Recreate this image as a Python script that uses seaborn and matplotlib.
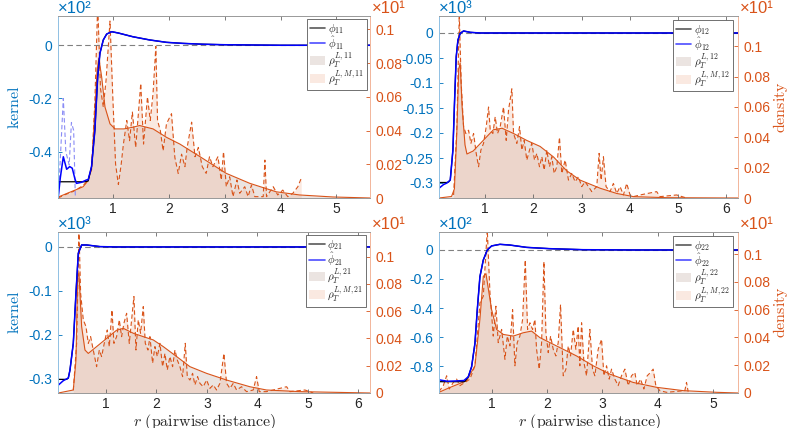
import matplotlib
matplotlib.use("Agg")
import matplotlib.pyplot as plt
import seaborn as sns
from matplotlib.ticker import FuncFormatter, FixedLocator
from matplotlib.lines import Line2D
from matplotlib.patches import Patch

# ---------------- panel 11 ----------------
r_phi11 = [0.02, 0.50, 0.56, 0.62, 0.68, 0.73, 0.77, 0.83, 0.89, 0.98, 1.1, 1.36, 1.66,
           1.96, 2.26, 2.6, 3.0, 3.5, 4.0, 5.6]
phi11 = [-0.513, -0.513, -0.51, -0.456, -0.318, -0.118, -0.03, 0.02, 0.042, 0.051, 0.046,
         0.032, 0.020, 0.011, 0.007, 0.004, 0.002, 0.001, 0.0, 0.0]
r_phihat11 = [0.025, 0.06, 0.115, 0.175, 0.23, 0.275, 0.32, 0.35, 0.44, 0.53, 0.56, 0.62,
              0.68, 0.73, 0.77, 0.83, 0.89, 0.98, 1.1, 1.36, 1.66, 1.96, 2.26, 2.6, 3.0,
              3.5, 4.0, 5.6]
phihat11 = [-0.57, -0.50, -0.419, -0.466, -0.456, -0.462, -0.50, -0.519, -0.515, -0.506,
            -0.505, -0.456, -0.318, -0.118, -0.03, 0.02, 0.042, 0.051, 0.046, 0.032, 0.020,
            0.011, 0.007, 0.004, 0.002, 0.001, 0.0, 0.0]
r_aux11 = [0.03, 0.115, 0.16, 0.22, 0.26, 0.30, 0.33]
aux11 = [-0.56, -0.20, -0.40, -0.45, -0.29, -0.32, -0.57]
r_rhoL11 = [0.02, 0.2, 0.35, 0.47, 0.55, 0.62, 0.68, 0.72, 0.75, 0.80, 0.86, 0.95, 1.04,
            1.2, 1.36, 1.48, 1.6, 1.72, 1.96, 2.2, 2.56, 3.03, 3.45, 3.92, 4.34, 4.94, 5.6]
rhoL11 = [0.0005, 0.003, 0.005, 0.0067, 0.010, 0.017, 0.052, 0.076, 0.083, 0.072, 0.054,
          0.044, 0.041, 0.041, 0.042, 0.043, 0.042, 0.041, 0.036, 0.032, 0.0245, 0.0146,
          0.0087, 0.0037, 0.0018, 0.0006, 0.0]
r_rhoLM11 = [0.02, 0.15, 0.30, 0.45, 0.55, 0.62, 0.68, 0.73, 0.78, 0.83, 0.88, 0.95, 1.00,
             1.05, 1.10, 1.15, 1.19, 1.25, 1.30, 1.35, 1.41, 1.50, 1.55, 1.62, 1.67, 1.72,
             1.77, 1.80, 1.85, 1.90, 1.96, 2.05, 2.11, 2.17, 2.23, 2.29, 2.33, 2.41, 2.47,
             2.53, 2.60, 2.67, 2.73, 2.79, 2.88, 2.94, 2.98, 3.03, 3.09, 3.15, 3.22, 3.27,
             3.36, 3.42, 3.48, 3.54, 3.69, 3.72, 3.75, 3.87, 3.95, 4.04, 4.13, 4.22, 4.31,
             4.37]
rhoLM11 = [0.0, 0.002, 0.004, 0.007, 0.010, 0.017, 0.058, 0.115, 0.065, 0.054, 0.070, 0.105,
           0.060, 0.020, 0.008, 0.020, 0.032, 0.046, 0.034, 0.051, 0.030, 0.068, 0.032,
           0.060, 0.046, 0.062, 0.090, 0.046, 0.040, 0.028, 0.044, 0.050, 0.024, 0.0146,
           0.026, 0.0186, 0.030, 0.045, 0.0245, 0.030, 0.0186, 0.0146, 0.0245, 0.0186,
           0.0245, 0.0107, 0.0275, 0.0067, 0.0126, 0.0008, 0.0107, 0.0028, 0.0067, 0.0008,
           0.0077, 0.0008, 0.0008, 0.0225, 0.0008, 0.0067, 0.0018, 0.0047, 0.0008, 0.0028,
           0.0067, 0.0117]

# ---------------- panel 12 ----------------
r_phi12 = [0.04, 0.20, 0.24, 0.274, 0.329, 0.364, 0.398, 0.433, 0.481, 0.55, 0.69, 0.90, 6.25]
phi12 = [-0.299, -0.299, -0.298, -0.294, -0.234, -0.134, -0.047, -0.014, -0.0007, 0.004,
         0.0013, 0.0, 0.0]
r_phihat12 = [0.046, 0.136, 0.205, 0.274, 0.329, 0.364, 0.398, 0.433, 0.481, 0.55, 0.69,
              0.90, 6.25]
phihat12 = [-0.31, -0.303, -0.300, -0.294, -0.234, -0.134, -0.047, -0.014, -0.0007, 0.004,
            0.0013, 0.0, 0.0]
r_rhoL12 = [0.04, 0.30, 0.36, 0.41, 0.45, 0.48, 0.52, 0.58, 0.62, 0.75, 0.90, 1.17, 1.35,
            1.59, 1.86, 2.14, 2.42, 2.69, 2.97, 3.39, 3.73, 4.08, 4.77, 6.25]
rhoL12 = [0.0, 0.001, 0.006, 0.043, 0.085, 0.089, 0.060, 0.035, 0.029, 0.031, 0.036, 0.045,
          0.046, 0.0425, 0.038, 0.034, 0.027, 0.018, 0.0118, 0.0064, 0.003, 0.0009, 0.0002,
          0.0]
r_rhoLM12 = [0.343, 0.412, 0.461, 0.502, 0.550, 0.599, 0.654, 0.703, 0.758, 0.813, 0.862,
             0.910, 0.965, 1.021, 1.069, 1.104, 1.159, 1.207, 1.256, 1.311, 1.380, 1.436,
             1.484, 1.553, 1.588, 1.657, 1.712, 1.761, 1.809, 1.864, 1.920, 1.968, 2.024,
             2.072, 2.127, 2.176, 2.224, 2.279, 2.335, 2.383, 2.432, 2.487, 2.542, 2.591,
             2.660, 2.729, 2.798, 2.867, 2.936, 3.005, 3.075, 3.144, 3.213, 3.317, 3.365,
             3.407, 3.455, 3.510, 3.593, 3.662, 3.732, 3.801, 3.870, 3.939, 4.008, 4.077,
             4.216, 4.561, 4.631, 4.976, 5.18]
rhoLM12 = [0.002, 0.047, 0.121, 0.075, 0.047, 0.0425, 0.0447, 0.036, 0.0425, 0.0294, 0.0206,
           0.0316, 0.036, 0.047, 0.060, 0.0447, 0.0425, 0.0535, 0.0425, 0.047, 0.060, 0.038,
           0.058, 0.072, 0.0425, 0.036, 0.047, 0.0316, 0.038, 0.025, 0.0316, 0.036, 0.025,
           0.0294, 0.0206, 0.0272, 0.0184, 0.0316, 0.0206, 0.0272, 0.0162, 0.0206, 0.040,
           0.0162, 0.025, 0.0118, 0.0162, 0.0107, 0.014, 0.0075, 0.0107, 0.0075, 0.0042,
           0.0075, 0.0294, 0.0118, 0.0272, 0.0075, 0.0042, 0.0096, 0.003, 0.0075, 0.002,
           0.0096, 0.002, 0.0009, 0.002, 0.0042, 0.0009, 0.002, 0.0]

# ---------------- panel 21 ----------------
r_phi21 = [0.05, 0.22, 0.254, 0.287, 0.353, 0.406, 0.452, 0.518, 0.617, 0.881, 1.21, 6.23]
phi21 = [-0.301, -0.301, -0.298, -0.280, -0.219, -0.105, -0.0144, 0.0045, 0.0045, 0.0008,
         0.0, 0.0]
r_phihat21 = [0.056, 0.155, 0.254, 0.287, 0.353, 0.406, 0.452, 0.518, 0.617, 0.881, 1.21,
              6.23]
phihat21 = [-0.314, -0.304, -0.298, -0.280, -0.219, -0.105, -0.0144, 0.0045, 0.0045, 0.0008,
            0.0, 0.0]
r_rhoL21 = [0.056, 0.353, 0.406, 0.439, 0.465, 0.518, 0.584, 0.65, 0.815, 1.013, 1.21,
            1.343, 1.541, 1.739, 1.937, 2.135, 2.40, 2.663, 2.993, 3.389, 3.85, 4.18, 4.84,
            6.23]
rhoL21 = [0.0, 0.0022, 0.024, 0.085, 0.088, 0.0487, 0.0315, 0.029, 0.034, 0.040, 0.046,
          0.0474, 0.0438, 0.0413, 0.0389, 0.034, 0.0267, 0.0193, 0.0144, 0.0095, 0.0046,
          0.0022, 0.001, 0.0]
r_rhoLM21 = [0.353, 0.419, 0.465, 0.498, 0.551, 0.604, 0.650, 0.696, 0.762, 0.815, 0.868,
             0.914, 0.980, 1.026, 1.066, 1.119, 1.158, 1.211, 1.264, 1.310, 1.356, 1.409,
             1.462, 1.508, 1.554, 1.594, 1.640, 1.686, 1.739, 1.779, 1.832, 1.871, 1.924,
             1.970, 2.017, 2.069, 2.122, 2.168, 2.215, 2.267, 2.320, 2.366, 2.413, 2.465,
             2.518, 2.571, 2.611, 2.663, 2.716, 2.762, 2.815, 2.861, 2.927, 2.993, 3.059,
             3.125, 3.191, 3.257, 3.337, 3.389, 3.455, 3.521, 3.587, 3.686, 3.785, 3.917,
             3.983, 4.036, 4.18, 4.578, 4.644, 4.941, 5.106]
rhoLM21 = [0.002, 0.0364, 0.1196, 0.073, 0.0536, 0.0487, 0.0364, 0.0413, 0.029, 0.0193,
           0.0315, 0.0267, 0.0389, 0.0462, 0.034, 0.0609, 0.0364, 0.0413, 0.0536, 0.0413,
           0.0511, 0.0584, 0.0364, 0.0536, 0.0707, 0.0315, 0.0536, 0.0438, 0.0633, 0.0364,
           0.0315, 0.0413, 0.0218, 0.034, 0.0267, 0.0364, 0.0193, 0.029, 0.0169, 0.0267,
           0.0193, 0.0315, 0.0242, 0.0193, 0.012, 0.0364, 0.012, 0.0095, 0.0144, 0.0059,
           0.012, 0.0071, 0.0046, 0.0095, 0.0034, 0.0059, 0.0022, 0.0071, 0.029, 0.0071,
           0.0034, 0.0071, 0.0022, 0.0046, 0.001, 0.0022, 0.012, 0.001, 0.001, 0.0046, 0.001,
           0.0022, 0.0]

# ---------------- panel 22 ----------------
r_phi22 = [0.05, 0.50, 0.52, 0.579, 0.639, 0.699, 0.741, 0.789, 0.850, 0.922, 1.0, 1.15,
           1.331, 1.632, 2.053, 2.655, 3.56, 5.45]
phi22 = [-0.908, -0.908, -0.905, -0.874, -0.805, -0.644, -0.414, -0.184, -0.069, 0.0, 0.028,
         0.039, 0.034, 0.018, 0.009, 0.002, 0.0, 0.0]
r_phihat22 = [0.05, 0.2, 0.35, 0.5, 0.579, 0.639, 0.699, 0.741, 0.789, 0.850, 0.922, 1.0,
              1.15, 1.331, 1.632, 2.053, 2.655, 3.56, 5.45]
phihat22 = [-0.895, -0.905, -0.903, -0.90, -0.874, -0.805, -0.644, -0.414, -0.184, -0.069,
            0.0, 0.028, 0.039, 0.034, 0.018, 0.009, 0.002, 0.0, 0.0]
r_rhoL22 = [0.05, 0.248, 0.549, 0.699, 0.789, 0.85, 0.898, 1.0, 1.09, 1.211, 1.391, 1.572,
            1.722, 1.872, 2.053, 2.294, 2.534, 2.835, 3.136, 3.557, 3.978, 4.46, 5.061, 5.45]
rhoL22 = [0.0005, 0.004, 0.0088, 0.0196, 0.053, 0.084, 0.086, 0.060, 0.0458, 0.0422, 0.041,
          0.0434, 0.0446, 0.0399, 0.0363, 0.0315, 0.0267, 0.0196, 0.0136, 0.0076, 0.0041,
          0.0017, 0.0005, 0.0]
r_rhoLM22 = [0.049, 0.128, 0.188, 0.236, 0.308, 0.368, 0.428, 0.519, 0.609, 0.699, 0.789,
             0.850, 0.922, 0.970, 1.030, 1.078, 1.120, 1.181, 1.241, 1.283, 1.331, 1.379,
             1.421, 1.463, 1.511, 1.560, 1.608, 1.650, 1.692, 1.740, 1.782, 1.812, 1.860,
             1.903, 1.945, 1.981, 2.023, 2.065, 2.113, 2.161, 2.203, 2.245, 2.294, 2.342,
             2.384, 2.426, 2.474, 2.522, 2.564, 2.594, 2.625, 2.667, 2.715, 2.775, 2.823,
             2.865, 2.925, 2.986, 3.028, 3.076, 3.124, 3.166, 3.226, 3.286, 3.346, 3.407,
             3.467, 3.527, 3.587, 3.629, 3.69, 3.75, 3.81, 3.87, 3.918, 3.966, 4.038, 4.159,
             4.49, 4.52, 4.55]
rhoLM22 = [0.001, 0.0053, 0.0124, 0.0029, 0.0076, 0.010, 0.0053, 0.0076, 0.010, 0.0196,
           0.0649, 0.0697, 0.1174, 0.0721, 0.041, 0.0625, 0.0363, 0.0458, 0.0243, 0.041,
           0.0339, 0.0601, 0.0196, 0.0363, 0.041, 0.053, 0.0959, 0.0458, 0.0506, 0.0458,
           0.053, 0.0315, 0.0172, 0.0363, 0.0947, 0.0434, 0.0291, 0.041, 0.0315, 0.0267,
           0.0363, 0.0637, 0.0124, 0.0172, 0.0339, 0.0267, 0.0458, 0.0315, 0.0482, 0.0196,
           0.0506, 0.022, 0.0124, 0.0458, 0.0172, 0.0124, 0.0315, 0.0387, 0.0124, 0.0196,
           0.010, 0.0172, 0.010, 0.0053, 0.0124, 0.0172, 0.0053, 0.0124, 0.0148, 0.0053,
           0.010, 0.0029, 0.0124, 0.0148, 0.0172, 0.0053, 0.0017, 0.0005, 0.0017, 0.0076,
           0.001]

# axis settings per panel
xlim11, ylim11, rlim11 = (0.02, 5.6), (-0.574, 0.11), (0, 0.108)
xlim12, ylim12, rlim12 = (0.04, 6.25), (-0.33, 0.034), (0, 0.12)
xlim21, ylim21, rlim21 = (0.05, 6.23), (-0.332, 0.034), (0, 0.118)
xlim22, ylim22, rlim22 = (0.05, 5.45), (-0.986, 0.124), (0, 0.116)
xticks11, yticks11 = [1, 2, 3, 4, 5], [-0.4, -0.2, 0]
xticks12, yticks12 = [1, 2, 3, 4, 5, 6], [-0.3, -0.25, -0.2, -0.15, -0.1, -0.05, 0]
xticks21, yticks21 = [1, 2, 3, 4, 5, 6], [-0.3, -0.2, -0.1, 0]
xticks22, yticks22 = [1, 2, 3, 4, 5], [-0.8, -0.6, -0.4, -0.2, 0]
dticks = [0, 0.02, 0.04, 0.06, 0.08, 0.1]

BLUE = "#0072BD"
ORANGE = "#D95319"
FILL_L = "#b3978b"
FILL_LM = "#efab8b"

sns.set_theme(style="ticks")
plt.rcParams["font.family"] = ["Liberation Sans", "DejaVu Sans"]
plt.rcParams["mathtext.fontset"] = "cm"
plt.rcParams["axes.unicode_minus"] = False

fig = plt.figure(figsize=(7.97, 4.28), dpi=100)
fmt = FuncFormatter(lambda v, p: "%g" % round(v, 4))


def draw_panel(rect, idx, r_phi, phi, r_hat, hat, r_L, rhoL, r_LM, rhoLM,
               xlim, ylim, rlim, xticks, yticks, kexp, left, bottom, leg_anchor,
               aux=None):
    ax = fig.add_axes(rect)
    axr = ax.twinx()
    ax.set_zorder(axr.get_zorder() + 1)
    ax.patch.set_visible(False)

    # densities on the right axis
    axr.fill_between(r_L, rhoL, color=FILL_L, alpha=0.25, lw=0)
    axr.fill_between(r_LM, rhoLM, color=FILL_LM, alpha=0.25, lw=0)
    sns.lineplot(x=r_L, y=rhoL, ax=axr, color=ORANGE, lw=0.8, legend=False)
    sns.lineplot(x=r_LM, y=rhoLM, ax=axr, color=ORANGE, lw=0.8, linestyle=(0, (4, 2.5)),
                 legend=False)

    # kernels on the left axis
    ax.axhline(0, color="0.5", ls=(0, (5, 3)), lw=0.8)
    if aux is not None:
        sns.lineplot(x=aux[0], y=aux[1], ax=ax, color="#8a8cf5", lw=0.8,
                     linestyle=(0, (4, 2.5)), legend=False)
    sns.lineplot(x=r_phi, y=phi, ax=ax, color="black", lw=0.9, legend=False)
    sns.lineplot(x=r_hat, y=hat, ax=ax, color="#0000ff", lw=1.1, legend=False)

    ax.set_xlim(*xlim)
    ax.set_ylim(*ylim)
    axr.set_ylim(*rlim)
    ax.xaxis.set_major_locator(FixedLocator(xticks))
    ax.yaxis.set_major_locator(FixedLocator(yticks))
    axr.yaxis.set_major_locator(FixedLocator(dticks))
    for a in (ax.xaxis, ax.yaxis, axr.yaxis):
        a.set_major_formatter(fmt)
    ax.set_xlabel("")
    ax.set_ylabel("")
    axr.set_xlabel("")
    axr.set_ylabel("")

    ax.tick_params(axis="x", direction="in", top=True, length=3, width=0.6,
                   color="0.4", labelcolor="0.15", labelsize=10, pad=3)
    ax.tick_params(axis="y", direction="in", length=3, width=0.6, color=BLUE,
                   labelcolor=BLUE, labelsize=10, pad=4)
    axr.tick_params(axis="y", direction="in", length=3, width=0.6, color=ORANGE,
                    labelcolor=ORANGE, labelsize=10, pad=4)
    for s in axr.spines.values():
        s.set_visible(False)
    ax.spines["left"].set_color("#8fc0e3")
    ax.spines["right"].set_color("#f2b59a")
    ax.spines["top"].set_color("0.6")
    ax.spines["bottom"].set_color("0.6")
    for s in ax.spines.values():
        s.set_linewidth(0.7)

    ax.text(0.0, 1.0, "\u00d710" + kexp, transform=ax.transAxes, color=BLUE,
            fontsize=12, ha="left", va="bottom")
    ax.text(1.005, 1.0, "\u00d710\u00b9", transform=ax.transAxes, color=ORANGE,
            fontsize=12, ha="left", va="bottom")

    if left:
        ax.set_ylabel(r"$\mathrm{kernel}$", color=BLUE, fontsize=11.5)
        ax.yaxis.set_label_coords(-0.115, 0.5)
    else:
        axr.set_ylabel(r"$\mathrm{density}$", color=ORANGE, fontsize=11.5)
        axr.yaxis.set_label_coords(1.112, 0.5)
    if bottom:
        ax.set_xlabel(r"$r\ \mathrm{(pairwise\ distance)}$", fontsize=11.5, color="0.15")
        ax.xaxis.set_label_coords(0.47 if left else 0.505, -0.12)

    handles = [
        Line2D([], [], color="0.35", lw=1.2),
        Line2D([], [], color="#4d4dff", lw=1.2),
        Patch(facecolor=FILL_L, alpha=0.25, edgecolor="none"),
        Patch(facecolor=FILL_LM, alpha=0.25, edgecolor="none"),
    ]
    labels = [r"$\phi_{%s}$" % idx, r"$\hat{\phi}_{%s}$" % idx,
              r"$\rho_T^{L,%s}$" % idx, r"$\rho_T^{L,M,%s}$" % idx]
    leg = ax.legend(handles, labels, loc="upper right", bbox_to_anchor=leg_anchor,
                    borderaxespad=0, fontsize=8, frameon=True, fancybox=False,
                    framealpha=1, edgecolor="0.35", handlelength=1.4, handleheight=0.9,
                    handletextpad=0.25, labelspacing=-0.12, borderpad=0.25)
    leg.get_frame().set_linewidth(0.6)
    return ax


W1 = 312 / 797
W2 = 299 / 797
H1 = 182 / 428
H2 = 161 / 428
draw_panel([58 / 797, 1 - 198 / 428, W1, H1], "11", r_phi11, phi11, r_phihat11, phihat11,
           r_rhoL11, rhoL11, r_rhoLM11, rhoLM11, xlim11, ylim11, rlim11, xticks11, yticks11,
           "\u00b2", True, False, (0.99, 0.983), aux=(r_aux11, aux11))
draw_panel([439 / 797, 1 - 198 / 428, W2, H1], "12", r_phi12, phi12, r_phihat12, phihat12,
           r_rhoL12, rhoL12, r_rhoLM12, rhoLM12, xlim12, ylim12, rlim12, xticks12, yticks12,
           "\u00b3", False, False, (0.983, 0.978))
draw_panel([58 / 797, 1 - 393 / 428, W1, H2], "21", r_phi21, phi21, r_phihat21, phihat21,
           r_rhoL21, rhoL21, r_rhoLM21, rhoLM21, xlim21, ylim21, rlim21, xticks21, yticks21,
           "\u00b3", True, True, (0.987, 0.98))
draw_panel([439 / 797, 1 - 393 / 428, W2, H2], "22", r_phi22, phi22, r_phihat22, phihat22,
           r_rhoL22, rhoL22, r_rhoLM22, rhoLM22, xlim22, ylim22, rlim22, xticks22, yticks22,
           "\u00b2", False, True, (0.983, 0.975))

fig.savefig("out.png", dpi=100)
